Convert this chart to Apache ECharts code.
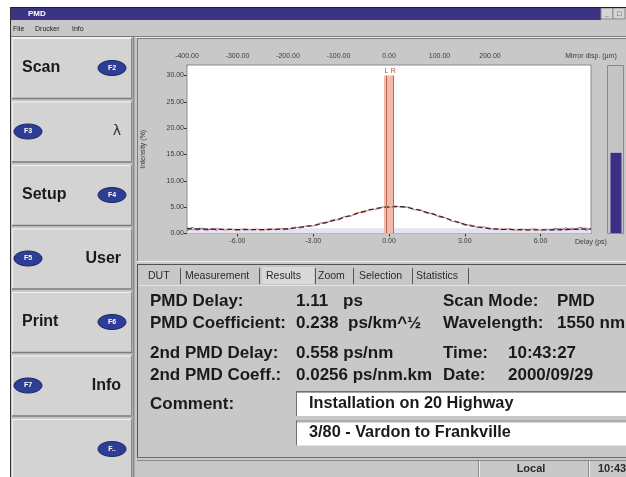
<!DOCTYPE html>
<html><head><meta charset="utf-8">
<script src="https://cdn.jsdelivr.net/npm/echarts/dist/echarts.min.js"></script>
<style>html,body{margin:0;padding:0;background:#fff}#c{width:626px;height:477px}</style>
</head><body><div id="c"></div><script>
// ---------- data ----------
const delayTicks = [-6, -3, 0, 3, 6];
const mirrorLabels = [-400, -300, -200, -100, 0, 100, 200];
const mirrorTickMarks = [-300, -200, -100, 0, 100, 200, 300];
const intensityTicks = [0, 5, 10, 15, 20, 25, 30];

const envelopeDelay = [-8,-7.5,-7,-6.5,-6,-5.5,-5,-4.5,-4,-3.5,-3,-2.5,-2,-1.5,-1,-0.5,0,0.5,1,1.5,2,2.5,3,3.5,4,4.5,5,5.5,6,6.5,7,7.5,8];
const envelopeIntensity = [0.9,0.85,0.8,0.8,0.75,0.75,0.75,0.8,0.9,1.2,1.55,2.1,2.75,3.45,4.2,4.75,5.05,5.1,4.65,4.0,3.3,2.5,1.75,1.25,0.95,0.8,0.75,0.7,0.7,0.7,0.75,0.8,0.85];

const sampleDelay = [-8,-7.75,-7.5,-7.25,-7,-6.75,-6.5,-6.25,-6,-5.75,-5.5,-5.25,-5,-4.75,-4.5,-4.25,-4,-3.75,-3.5,-3.25,-3,-2.75,-2.5,-2.25,-2,-1.75,-1.5,-1.25,-1,-0.75,-0.5,-0.25,0,0.25,0.5,0.75,1,1.25,1.5,1.75,2,2.25,2.5,2.75,3,3.25,3.5,3.75,4,4.25,4.5,4.75,5,5.25,5.5,5.75,6,6.25,6.5,6.75,7,7.25,7.5,7.75,8];
const sampleIntensity = [1.1,0.7,1.0,0.6,0.9,0.95,0.65,0.85,0.6,0.9,0.7,0.85,0.65,0.9,0.75,0.95,0.8,1.2,1.05,1.5,1.4,2.0,1.95,2.6,2.6,3.25,3.3,4.0,3.95,4.6,4.6,5.05,4.9,5.25,4.95,5.0,4.5,4.5,3.85,3.8,3.1,3.0,2.3,2.2,1.6,1.65,1.1,1.3,0.85,0.95,0.7,0.9,0.6,0.85,0.65,0.9,0.6,0.8,0.65,0.95,0.7,1.0,0.75,1.05,0.8];

const noiseDelayLeft = [-8,-7.8,-7.6,-7.4,-7.2,-7.0,-6.8];
const noiseIntensityLeft = [0.5,1.2,0.6,1.0,0.7,0.9,0.6];
const noiseDelayRight = [6.4,6.6,6.8,7.0,7.2,7.4,7.6,7.8,8];
const noiseIntensityRight = [0.7,1.0,0.6,1.1,0.7,0.9,1.2,0.6,1.0];

const noiseFloor = 1.0;
const cursorBand = [-0.2, 0.2];
const cursorL = -0.1, cursorR = 0.17;
const cursorTop = 30;
const signalLevel = [48];

// ---------- UI texts ----------
const FONT = '"Liberation Sans", Arial, sans-serif';
const buttons = [
  {label:'Scan', key:'F2', keyLeft:false},
  {label:'λ', key:'F3', keyLeft:true},
  {label:'Setup', key:'F4', keyLeft:false},
  {label:'User', key:'F5', keyLeft:true},
  {label:'Print', key:'F6', keyLeft:false},
  {label:'Info', key:'F7', keyLeft:true},
  {label:'', key:'F..', keyLeft:false}
];
const tabs = [
  {t:'DUT', x:148, d:180}, {t:'Measurement', x:185, d:259}, {t:'Results', x:266, d:315},
  {t:'Zoom', x:318, d:353}, {t:'Selection', x:359, d:412}, {t:'Statistics', x:416, d:468}
];
const results = [
  [150,301,'PMD Delay:'], [296,301,'1.11'], [343,301,'ps'], [443,301,'Scan Mode:'], [557,301,'PMD'],
  [150,323,'PMD Coefficient:'], [296,323,'0.238'], [348,323,'ps/km^½'], [443,323,'Wavelength:'], [557,323,'1550 nm'],
  [150,353,'2nd PMD Delay:'], [296,353,'0.558 ps/nm'], [443,353,'Time:'], [508,353,'10:43:27'],
  [150,375,'2nd PMD Coeff.:'], [296,375,'0.0256 ps/nm.km'], [443,375,'Date:'], [508,375,'2000/09/29'],
  [150,404,'Comment:']
];
const comments = ['Installation on 20 Highway', '3/80 - Vardon to Frankville'];

// ---------- graphic helpers ----------
const G = [];
function R(x,y,w,h,fill,stroke,z){G.push({type:'rect',silent:true,z:z||0,shape:{x:x,y:y,width:w,height:h},style:{fill:fill||'none',stroke:stroke||'none',lineWidth:1}});}
function L(x1,y1,x2,y2,c,w,z){G.push({type:'line',silent:true,z:z||1,shape:{x1:x1,y1:y1,x2:x2,y2:y2},style:{stroke:c,lineWidth:w||1}});}
function T(x,y,t,font,fill,align,z){G.push({type:'text',silent:true,z:z||3,style:{x:x,y:y,text:t,font:font,fill:fill||'#1a1a1a',textAlign:align||'left',align:align||'left',textVerticalAlign:'middle',verticalAlign:'middle'}});}
function E(cx,cy,rx,ry,fill,stroke){G.push({type:'ellipse',silent:true,z:2,shape:{cx:cx,cy:cy,rx:rx,ry:ry},style:{fill:fill,stroke:stroke,lineWidth:1}});}

// outer white margins
R(0,0,626,7,'#ffffff');
R(0,0,10,477,'#ffffff');
L(10.5,7,10.5,477,'#333',1);
// title bar
R(11,7,590,13,'#3a3482');
L(11,7.5,626,7.5,'#222',1);
T(28,14,'PMD','bold 8px '+FONT,'#ffffff');
R(601,8,12,11,'#d4d4d4','#8a8a8a');
R(613,8,12,11,'#d4d4d4','#8a8a8a');
T(607,14,'_','bold 7px '+FONT,'#333','center');
T(619,14,'□','7px '+FONT,'#333','center');
// menu
T(13,29,'File','7px '+FONT,'#222');
T(35,29,'Drucker','7px '+FONT,'#222');
T(72,29,'Info','7px '+FONT,'#222');
L(11,36.5,626,36.5,'#7a7a7a',1);
L(11,37.5,626,37.5,'#eeeeee',1);

// left buttons
buttons.forEach(function(b,i){
  const top = 38 + i*63.5, h = 60, cy = top + 30;
  R(12,top,120,h,'#d3d3d3');
  L(12,top+0.5,132,top+0.5,'#f4f4f4',1);
  L(12.5,top,12.5,top+h,'#f0f0f0',1);
  L(12,top+h+0.5,132,top+h+0.5,'#7c7c7c',1.5);
  L(131.5,top,131.5,top+h,'#8a8a8a',1);
  const kx = b.keyLeft ? 28 : 112;
  E(kx,cy,14,7.5,'#2e3d96','#1b245e');
  T(kx,cy,b.key,'bold 7px '+FONT,'#ffffff','center');
  if (b.label === 'λ') T(121,cy,b.label,'14px "DejaVu Sans", '+FONT,'#333','right');
  else if (b.label) {
    if (b.keyLeft) T(121,cy,b.label,'bold 16px '+FONT,'#1a1a1a','right');
    else T(22,cy,b.label,'bold 16px '+FONT,'#1a1a1a','left');
  }
});
L(133.5,37,133.5,477,'#8c8c8c',2);
// chart panel borders
L(137.5,38,137.5,262,'#7a7a7a',1);
L(137,38.5,626,38.5,'#7a7a7a',1);
L(137,261.5,626,261.5,'#efefef',1);
// meter frame
R(607.5,65.5,16,168,'#c4c4c4','#8a8a8a');

// tab panel
L(137,264.5,626,264.5,'#505050',1);
L(137.5,264,137.5,458,'#505050',1);
R(262,267,52,17,'#d9d9d9');
tabs.forEach(function(tb){
  T(tb.x,276,tb.t,'10.5px '+FONT,'#2a2a2a');
  L(tb.d+0.5,268,tb.d+0.5,284,'#555',1);
});
L(138,285.5,626,285.5,'#e2e2e2',1);
results.forEach(function(r){ T(r[0],r[1],r[2],'bold 17px '+FONT,'#1a1a1a'); });
comments.forEach(function(c,i){
  const y = 391 + i*29.5;
  R(296,y,330,25,'#ffffff');
  L(296,y+0.5,626,y+0.5,'#707070',1);
  L(296.5,y,296.5,y+25,'#707070',1);
  L(297,y+1.5,626,y+1.5,'#a8a8a8',1);
  T(309,y+12.5,c,'bold 16.3px '+FONT,'#1a1a1a');
});
L(137,457.5,626,457.5,'#6a6a6a',1);
// status bar
L(137,460.5,626,460.5,'#8a8a8a',1);
L(478.5,461,478.5,477,'#8a8a8a',1);
L(479.5,461,479.5,477,'#f0f0f0',1);
L(588.5,461,588.5,477,'#8a8a8a',1);
L(589.5,461,589.5,477,'#f0f0f0',1);
T(531,469,'Local','bold 11px '+FONT,'#2a2a2a','center');
T(598,469,'10:43','bold 11px '+FONT,'#2a2a2a','left');

// ---------- chart ----------
const pairs = (xs, ys) => xs.map((x,i)=>[x, ys[i]]);
const f2 = v => Number(v).toFixed(2);
const axisFont = {fontSize:7, color:'#3a3a3a', fontFamily:FONT};

const chart = echarts.init(document.getElementById('c'), null, {renderer:'canvas'});
chart.setOption({
  backgroundColor:'#c8c8c8',
  animation:false,
  graphic: G,
  grid:[
    {left:187, top:65, width:404, height:168.5, show:true, backgroundColor:'#ffffff', borderColor:'#8a8a8a', borderWidth:1, z:1},
    {left:610, top:66, width:12, height:167, show:false}
  ],
  xAxis:[
    {type:'value', gridIndex:0, min:-8, max:8, position:'bottom',
     name:'Delay (ps)', nameLocation:'end', nameGap:0,
     nameTextStyle:{fontSize:7, color:'#3a3a3a', fontFamily:FONT, align:'center', verticalAlign:'top', padding:[5,0,0,0]},
     axisLine:{show:true, onZero:false, lineStyle:{color:'#333', width:1}},
     axisTick:{show:true, customValues:delayTicks, length:3, lineStyle:{color:'#333'}},
     axisLabel:Object.assign({customValues:delayTicks, formatter:f2, margin:4}, axisFont),
     splitLine:{show:false}},
    {type:'value', gridIndex:0, min:-400, max:400, position:'top',
     name:'Mirror disp. (µm)', nameLocation:'end', nameGap:0,
     nameTextStyle:{fontSize:7, color:'#3a3a3a', fontFamily:FONT, align:'center', verticalAlign:'bottom', padding:[0,0,5,0]},
     axisLine:{show:true, onZero:false, lineStyle:{color:'#777', width:1}},
     axisTick:{show:true, customValues:mirrorTickMarks, length:3, inside:true, lineStyle:{color:'#555'}},
     axisLabel:Object.assign({customValues:mirrorLabels, formatter:f2, margin:5}, axisFont),
     splitLine:{show:false}},
    {type:'category', gridIndex:1, data:['level'], show:false}
  ],
  yAxis:[
    {type:'value', gridIndex:0, min:0, max:32,
     name:'Intensity (%)', nameLocation:'middle', nameGap:40, nameRotate:90,
     nameTextStyle:{fontSize:7, color:'#3a3a3a', fontFamily:FONT},
     axisLine:{show:true, onZero:false, lineStyle:{color:'#333', width:1}},
     axisTick:{show:true, customValues:intensityTicks, length:3, lineStyle:{color:'#333'}},
     axisLabel:Object.assign({customValues:intensityTicks, formatter:f2, margin:3}, axisFont),
     splitLine:{show:false}},
    {type:'value', gridIndex:1, min:0, max:100, show:false}
  ],
  series:[
    {type:'line', name:'floor', xAxisIndex:0, yAxisIndex:0, data:[], symbol:'none', z:1,
     markArea:{silent:true, itemStyle:{color:'#e3e3f2'}, data:[[{yAxis:0},{yAxis:noiseFloor}]]}},
    {type:'line', name:'cursor', xAxisIndex:0, yAxisIndex:0, data:[], symbol:'none', z:2,
     markArea:{silent:true, itemStyle:{color:'#f4bba9'}, data:[[{coord:[cursorBand[0],0]},{coord:[cursorBand[1],cursorTop]}]]},
     markLine:{silent:true, symbol:'none', animation:false,
       lineStyle:{color:'#b86a5a', width:1, type:'solid'},
       label:{show:true, position:'end', distance:1, fontSize:7, color:'#b0503c', fontFamily:FONT},
       data:[
         [{coord:[cursorL,0], name:'L'},{coord:[cursorL,cursorTop]}],
         [{coord:[cursorR,0], name:'R'},{coord:[cursorR,cursorTop]}]
       ].map(function(d){ d[0].label={formatter:d[0].name}; return d; })}},
    {type:'line', name:'samples', xAxisIndex:0, yAxisIndex:0, data:pairs(sampleDelay,sampleIntensity),
     symbol:'none', z:3, lineStyle:{color:'#e59a85', width:1.3}},
    {type:'line', name:'noise', xAxisIndex:0, yAxisIndex:0,
     data:pairs(noiseDelayLeft,noiseIntensityLeft).concat([[0,null]]).concat(pairs(noiseDelayRight,noiseIntensityRight)),
     connectNulls:false, symbol:'none', z:3, lineStyle:{color:'#7a6cb0', width:1}},
    {type:'line', name:'envelope', xAxisIndex:0, yAxisIndex:0, data:pairs(envelopeDelay,envelopeIntensity),
     smooth:true, symbol:'none', z:4, lineStyle:{color:'#2a2a3c', width:1.3, type:[5,3]}},
    {type:'bar', name:'level', xAxisIndex:2, yAxisIndex:1, data:signalLevel, barWidth:11,
     itemStyle:{color:'#3b2f85'}, z:2}
  ]
});
</script></body></html>
